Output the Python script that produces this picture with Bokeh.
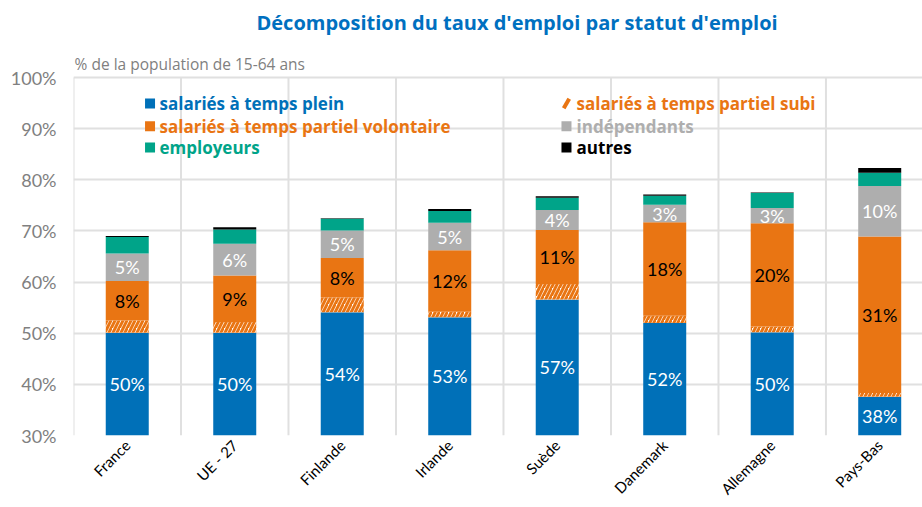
import numpy as np
from bokeh.plotting import figure
from bokeh.models import ColumnDataSource, Range1d, FixedTicker, PrintfTickFormatter, Label, LabelSet
from bokeh.embed import file_html
from bokeh.resources import INLINE
from bokeh.core.properties import value

countries = ["France", "UE - 27", "Finlande", "Irlande", "Suède", "Danemark", "Allemagne", "Pays-Bas"]
plein = [50.1, 50.1, 54.1, 53.1, 56.6, 52.0, 50.2, 37.6]
subi = [2.4, 2.1, 2.9, 1.1, 3.0, 1.4, 1.1, 0.7]
volontaire = [7.7, 9.1, 7.7, 12.0, 10.6, 18.3, 20.2, 30.6]
independants = [5.4, 6.2, 5.4, 5.4, 3.9, 3.4, 3.0, 9.9]
employeurs = [3.2, 2.8, 2.3, 2.3, 2.4, 1.8, 2.9, 2.6]
autres = [0.2, 0.4, 0.1, 0.4, 0.3, 0.2, 0.1, 0.9]
y_ticks = [30, 40, 50, 60, 70, 80, 90, 100]

series = ["plein", "subi", "volontaire", "independants", "employeurs", "autres"]
names = {
    "plein": "salariés à temps plein",
    "subi": "salariés à temps partiel subi",
    "volontaire": "salariés à temps partiel volontaire",
    "independants": "indépendants",
    "employeurs": "employeurs",
    "autres": "autres",
}
BLUE = "#0070B8"
ORANGE = "#E97513"
GRAY = "#AEAEAE"
GREEN = "#00A489"
BLACK = "#000000"
colors = [BLUE, "#FFFFFF", ORANGE, GRAY, GREEN, BLACK]
GRID = "#E0E0E0"

FONT = "Lato"
WFONT = "Open Sans"
xs = list(range(len(countries)))
data = dict(x=xs, plein=plein, subi=subi, volontaire=volontaire,
            independants=independants, employeurs=employeurs, autres=autres)
source = ColumnDataSource(data)

# layout: frame covers the top area so that title/legend texts can be placed in it
Y0, Y1 = y_ticks[0], y_ticks[-1]
FRAME_TOP_PX, AXIS_BOTTOM_PX = 77, 435
px_per_unit = (AXIS_BOTTOM_PX - FRAME_TOP_PX) / (Y1 - Y0)
y_end = Y1 + FRAME_TOP_PX / px_per_unit

p = figure(width=922, height=507, output_backend="svg", toolbar_location=None,
           x_range=Range1d(-0.5, 7.398), y_range=Range1d(Y0, y_end),
           min_border_left=73, min_border_right=0, min_border_top=0, min_border_bottom=72)
p.outline_line_color = None
p.background_fill_color = "white"

# grid
p.ygrid.ticker = FixedTicker(ticks=y_ticks)
p.ygrid.grid_line_color = GRID
p.ygrid.grid_line_width = 2
p.xgrid.visible = False
bounds = [i - 0.5 for i in range(len(countries) + 1)]
p.segment(x0=bounds, y0=[Y0] * len(bounds), x1=bounds, y1=[Y1] * len(bounds),
          line_color=GRID, line_width=2)

rs = p.vbar_stack(series, x="x", width=0.4, source=source, color=colors, line_color=None)
hr = rs[1].glyph
hr.fill_color = "white"
hr.hatch_pattern = "right_diagonal_line"
hr.hatch_color = ORANGE
hr.hatch_weight = 3
hr.hatch_scale = 8

# axes
p.yaxis.ticker = FixedTicker(ticks=y_ticks)
p.yaxis.formatter = PrintfTickFormatter(format="%d%%")
p.yaxis.axis_line_color = None
p.yaxis.major_tick_line_color = None
p.yaxis.major_tick_out = 0
p.yaxis.minor_tick_line_color = None
p.yaxis.major_label_text_font = FONT
p.yaxis.major_label_text_font_size = "18px"
p.yaxis.major_label_text_color = "#808080"
p.yaxis.major_label_standoff = 17

p.xaxis.ticker = FixedTicker(ticks=xs)
p.xaxis.major_label_overrides = {i: c for i, c in enumerate(countries)}
p.xaxis.major_label_orientation = np.pi / 4
p.xaxis.axis_line_color = None
p.xaxis.major_tick_line_color = None
p.xaxis.major_tick_out = 0
p.xaxis.minor_tick_line_color = None
p.xaxis.major_label_text_font = FONT
p.xaxis.major_label_text_font_size = "15px"
p.xaxis.major_label_text_color = "#000000"
p.xaxis.major_label_standoff = 7

# value labels
arr = {k: np.array(data[k], dtype=float) for k in series}
cum = np.zeros(len(countries))
bottoms = {}
for k in series:
    bottoms[k] = cum.copy()
    cum = cum + arr[k]
for k, col in [("plein", "white"), ("volontaire", "black"), ("independants", "white")]:
    lo = np.maximum(bottoms[k], Y0)
    hi = bottoms[k] + arr[k]
    src = ColumnDataSource(dict(x=xs, y=(lo + hi) / 2, t=[f"{v:.0f}%" for v in arr[k]]))
    p.add_layout(LabelSet(x="x", y="y", text="t", source=src, text_align="center",
                          text_baseline="middle", text_color=col, text_font=value(FONT),
                          text_font_size="18px"))

# title & subtitle
p.add_layout(Label(x=1.2023, y=110.75, text="Décomposition du taux d'emploi par statut d'emploi",
                   text_align="left", text_baseline="middle", text_color="#0070C0",
                   text_font=WFONT, text_font_style="bold", text_font_size="20px"))
p.add_layout(Label(x=-0.49, y=102.6, text="% de la population de 15-64 ans",
                   text_align="left", text_baseline="middle", text_color="#808080",
                   text_font=WFONT, text_font_size="15.5px"))

# legend
rows = [94.9, 90.45, 86.3]
leg1 = [("plein", BLUE), ("volontaire", ORANGE), ("employeurs", GREEN)]
leg2 = [("subi", ORANGE), ("independants", GRAY), ("autres", BLACK)]
for (k, c), yy in zip(leg1, rows):
    p.scatter(x=[0.212], y=[yy], marker="square", size=10, fill_color=c, line_color=None)
    p.add_layout(Label(x=0.30, y=yy, text=names[k], text_align="left", text_baseline="middle",
                       text_color=c, text_font=WFONT, text_font_style="bold", text_font_size="17px"))
for (k, c), yy in zip(leg2, rows):
    if k == "subi":
        p.scatter(x=[4.086], y=[yy], marker="dash", size=11, angle=np.pi / 3,
                  line_color=c, line_width=4)
    else:
        p.scatter(x=[4.086], y=[yy], marker="square", size=10, fill_color=c, line_color=None)
    p.add_layout(Label(x=4.18, y=yy, text=names[k], text_align="left", text_baseline="middle",
                       text_color=c, text_font=WFONT, text_font_style="bold", text_font_size="17px"))

open("out.html", "w").write(file_html(p, INLINE))
